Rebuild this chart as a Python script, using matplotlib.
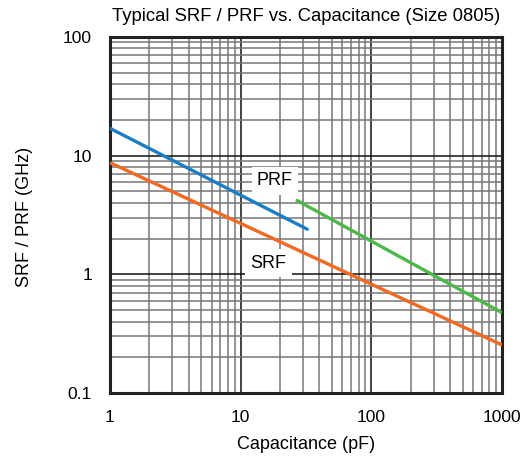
import matplotlib
matplotlib.use("Agg")
import matplotlib.pyplot as plt
import numpy as np
from matplotlib.ticker import LogLocator, FixedLocator, NullFormatter

plt.rcParams['font.family'] = ['Liberation Sans', 'DejaVu Sans']

# data (endpoints of straight lines on log-log)
prf_low_x = [1, 32.3]
prf_low_y = [17.0, 2.40]
srf_x = [1, 1000]
srf_y = [8.73, 0.254]
prf_high_x = [26.5, 1000]
prf_high_y = [4.24, 0.475]

xticks = [1, 10, 100, 1000]
xtick_labels = ["1", "10", "100", "1000"]
yticks = [0.1, 1, 10, 100]
ytick_labels = ["0.1", "1", "10", "100"]

fig = plt.figure(figsize=(5.24, 4.59), dpi=100)
ax = fig.add_axes([110/524, 1-393/459, (502-110)/524, (393-37)/459])
ax.set_xscale('log')
ax.set_yscale('log')
ax.set_xlim(1, 1000)
ax.set_ylim(0.1, 100)

ax.xaxis.set_major_locator(FixedLocator(xticks))
ax.set_xticklabels(xtick_labels)
ax.yaxis.set_major_locator(FixedLocator(yticks))
ax.set_yticklabels(ytick_labels)
ax.xaxis.set_minor_locator(LogLocator(base=10, subs=np.arange(2, 10)))
ax.yaxis.set_minor_locator(LogLocator(base=10, subs=np.arange(2, 10)))
ax.xaxis.set_minor_formatter(NullFormatter())
ax.yaxis.set_minor_formatter(NullFormatter())

ax.grid(which='major', color='#111111', linewidth=1.1)
ax.grid(which='minor', color='#777777', linewidth=1.1)
ax.tick_params(which='both', length=0, labelsize=12.5)
ax.tick_params(axis='x', pad=12)
ax.tick_params(axis='y', pad=13)
for s in ax.spines.values():
    s.set_linewidth(2.2)
    s.set_color('#222222')

ax.plot(prf_low_x, prf_low_y, color='#1b7ec4', linewidth=2.4, solid_capstyle='round', zorder=5)
ax.plot(srf_x, srf_y, color='#f26a22', linewidth=2.4, solid_capstyle='butt', zorder=5)
ax.plot(prf_high_x, prf_high_y, color='#4cb848', linewidth=2.4, solid_capstyle='butt', zorder=5)

box = dict(boxstyle='square,pad=0.3', facecolor='white', edgecolor='none')
ax.text(18.3, 6.12, "PRF", ha='center', va='center', fontsize=13, bbox=box, zorder=4)
ax.text(16.3, 1.24, "SRF", ha='center', va='center', fontsize=13, bbox=box, zorder=4)

ax.set_title("Typical SRF / PRF vs. Capacitance (Size 0805)", fontsize=13.3, y=1.045, pad=0)
ax.set_xlabel("Capacitance (pF)", fontsize=13)
ax.xaxis.set_label_coords(0.5, -0.121)
ax.set_ylabel("SRF / PRF (GHz)", fontsize=13)
ax.yaxis.set_label_coords(-0.197, 0.495)

fig.savefig("out.png", dpi=100)
